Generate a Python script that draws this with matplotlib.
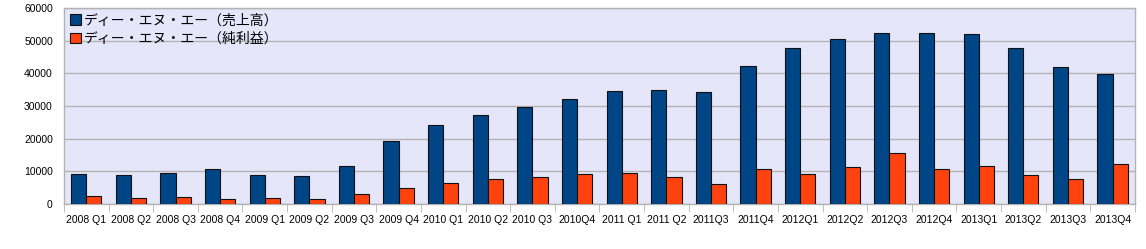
import numpy as np
import matplotlib
matplotlib.use("Agg")
from matplotlib import pyplot as plt

plt.rcParams['font.family'] = ['Liberation Sans', 'Noto Sans CJK JP', 'DejaVu Sans']

# Quarterly figures (million yen)
quarters = ['2008 Q1', '2008 Q2', '2008 Q3', '2008 Q4', '2009 Q1', '2009 Q2', '2009 Q3', '2009 Q4',
            '2010 Q1', '2010 Q2', '2010 Q3', '2010Q4', '2011 Q1', '2011 Q2', '2011Q3', '2011Q4',
            '2012Q1', '2012Q2', '2012Q3', '2012Q4', '2013Q1', '2013Q2', '2013Q3', '2013Q4']
sales = [9100, 8800, 9400, 10550, 8800, 8600, 11650, 19150,
         24250, 27100, 29550, 32000, 34650, 34800, 34150, 42150,
         47650, 50400, 52350, 52250, 52150, 47650, 41850, 39800]
profit = [2350, 1950, 2250, 1450, 1750, 1650, 2950, 4900,
          6550, 7650, 8100, 9300, 9400, 8200, 6100, 10650,
          9200, 11350, 15550, 10650, 11550, 8900, 7650, 12200]
series_names = ['ディー・エヌ・エー（売上高）', 'ディー・エヌ・エー（純利益）']

fig = plt.figure(figsize=(11.46, 2.49), dpi=100)
ax = fig.add_axes([0.0558, 0.181, 0.9345, 0.787])
ax.set_facecolor('#e6e6fa')

x = np.arange(len(quarters))
w = 0.34
ax.bar(x - w / 2, sales, w, color='#004586', edgecolor='#111111', linewidth=0.8,
       label=series_names[0], zorder=3)
ax.bar(x + w / 2, profit, w, color='#ff420e', edgecolor='#111111', linewidth=0.8,
       label=series_names[1], zorder=3)

ax.set_xlim(-0.5, len(quarters) - 0.5)
ax.set_ylim(0, 60000)
ax.set_yticks(range(0, 60001, 10000))
ax.yaxis.grid(True, color='#b3b3b3', linewidth=1, zorder=0)
ax.tick_params(axis='y', length=0, labelsize=7.5, pad=8)

ax.set_xticks(x)
ax.set_xticklabels(quarters)
ax.set_xticks(np.arange(-0.5, len(quarters), 1), minor=True)
ax.tick_params(axis='x', which='major', length=0, labelsize=7.5, pad=8)
ax.tick_params(axis='x', which='minor', length=6, color='#b3b3b3', direction='out')

for s in ax.spines.values():
    s.set_color('#b3b3b3')
    s.set_linewidth(1)

leg = ax.legend(loc='upper left', frameon=False, handlelength=0.8,
                handleheight=0.8, handletextpad=0.25, labelspacing=0.3,
                borderaxespad=0.1, borderpad=0.3,
                prop={'family': ['Noto Sans CJK JP'], 'size': 10})

fig.savefig('out.png', dpi=100)
